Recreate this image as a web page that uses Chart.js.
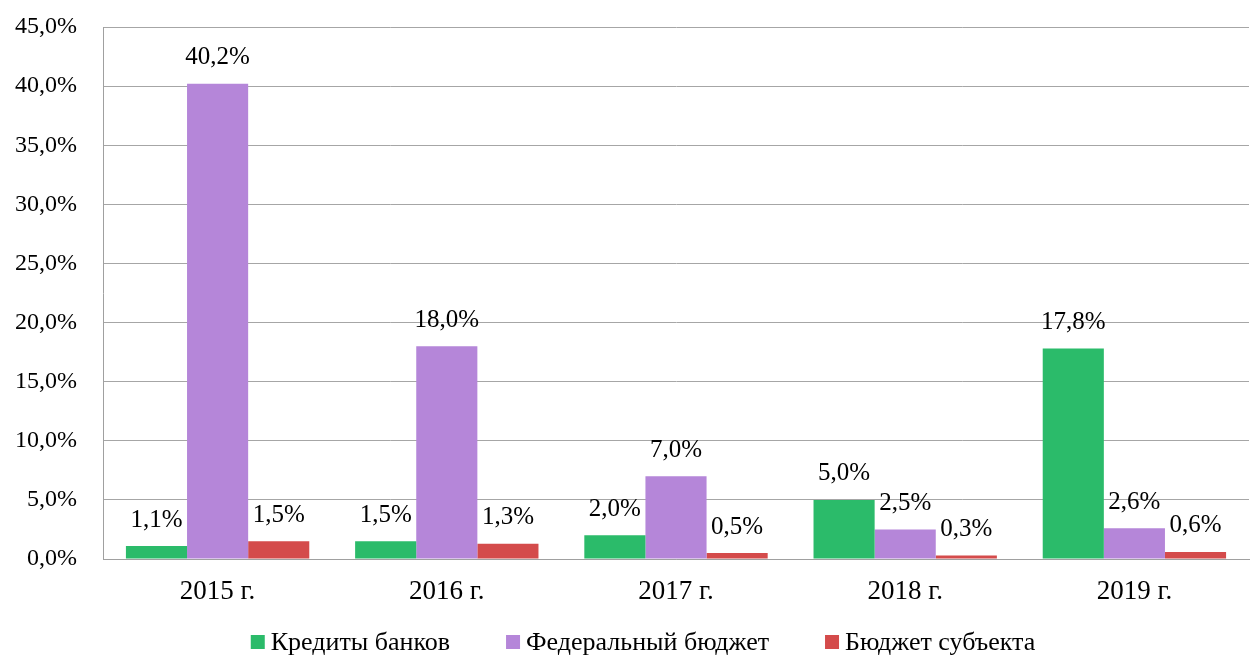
<!DOCTYPE html>
<html lang="ru">
<head>
    <meta charset="UTF-8">
    <title>Структура источников финансирования</title>
    <style>
        html, body { margin: 0; padding: 0; background: #fff; }
        #wrap { width: 1250px; height: 657px; }
    </style>
</head>
<body>
    <div id="wrap"><canvas id="chart" width="1250" height="657"></canvas></div>

    <script src="https://cdn.jsdelivr.net/npm/chart.js"></script>
    <script>
// данные
const years = ['2015 г.', '2016 г.', '2017 г.', '2018 г.', '2019 г.'];
const seriesNames = ['Кредиты банков', 'Федеральный бюджет', 'Бюджет субъекта'];
const bankCredits = [1.1, 1.5, 2.0, 5.0, 17.8];
const federalBudget = [40.2, 18.0, 7.0, 2.5, 2.6];
const regionBudget = [1.5, 1.3, 0.5, 0.3, 0.6];
const colors = ['#2bbb6a', '#b586d9', '#d44b4b'];

const fontFamily = '"Liberation Serif", "Times New Roman", serif';
const fmt = v => v.toFixed(1).replace('.', ',') + '%';

// подписи значений над столбцами
const valueLabels = {
    id: 'valueLabels',
    afterDatasetsDraw(chart) {
        const ctx = chart.ctx;
        ctx.save();
        ctx.font = '25px ' + fontFamily;
        ctx.fillStyle = '#000';
        ctx.textAlign = 'center';
        ctx.textBaseline = 'middle';
        chart.data.datasets.forEach((ds, i) => {
            chart.getDatasetMeta(i).data.forEach((bar, j) => {
                ctx.fillText(fmt(ds.data[j]), bar.x, bar.y - 26);
            });
        });
        ctx.restore();
    }
};

// легенда внизу (квадрат вплотную к тексту, как в Excel)
const bottomLegend = {
    id: 'bottomLegend',
    afterDraw(chart) {
        const ctx = chart.ctx;
        const box = 14, gap = 6, between = 56, cy = 643, cx = 643;
        ctx.save();
        ctx.font = '26px ' + fontFamily;
        ctx.textBaseline = 'middle';
        const widths = chart.data.datasets.map(ds => ctx.measureText(ds.label).width);
        const total = widths.reduce((a, w) => a + box + gap + w, 0) + between * (widths.length - 1);
        let x = cx - total / 2;
        chart.data.datasets.forEach((ds, i) => {
            ctx.fillStyle = ds.backgroundColor;
            ctx.fillRect(x, cy - box / 2 - 1, box, box);
            ctx.fillStyle = '#000';
            ctx.fillText(ds.label, x + box + gap, cy);
            x += box + gap + widths[i] + between;
        });
        ctx.restore();
    }
};

new Chart(document.getElementById('chart'), {
    type: 'bar',
    data: {
        labels: years,
        datasets: [
            { label: seriesNames[0], data: bankCredits, backgroundColor: colors[0] },
            { label: seriesNames[1], data: federalBudget, backgroundColor: colors[1] },
            { label: seriesNames[2], data: regionBudget, backgroundColor: colors[2] }
        ]
    },
    options: {
        responsive: false,
        animation: false,
        layout: { padding: { top: 27, right: 1, left: 0, bottom: 48 } },
        datasets: { bar: { categoryPercentage: 0.8, barPercentage: 1.0 } },
        plugins: {
            legend: { display: false },
            tooltip: { enabled: false }
        },
        scales: {
            x: {
                afterFit: s => { s.height = 50; s.paddingLeft = 0; s.paddingRight = 0; },
                grid: { display: false },
                border: { color: '#a0a0a0' },
                ticks: { font: { family: fontFamily, size: 27 }, color: '#000', padding: 9 }
            },
            y: {
                min: 0,
                max: 45,
                afterFit: s => { s.width = 103; s.paddingTop = 0; s.paddingBottom = 0; },
                grid: { color: '#a6a6a6', tickLength: 0 },
                border: { color: '#a0a0a0' },
                ticks: {
                    stepSize: 5,
                    padding: 26,
                    font: { family: fontFamily, size: 24 },
                    color: '#000',
                    callback: v => fmt(v)
                }
            }
        }
    },
    plugins: [valueLabels, bottomLegend]
});
    </script>
</body>
</html>
